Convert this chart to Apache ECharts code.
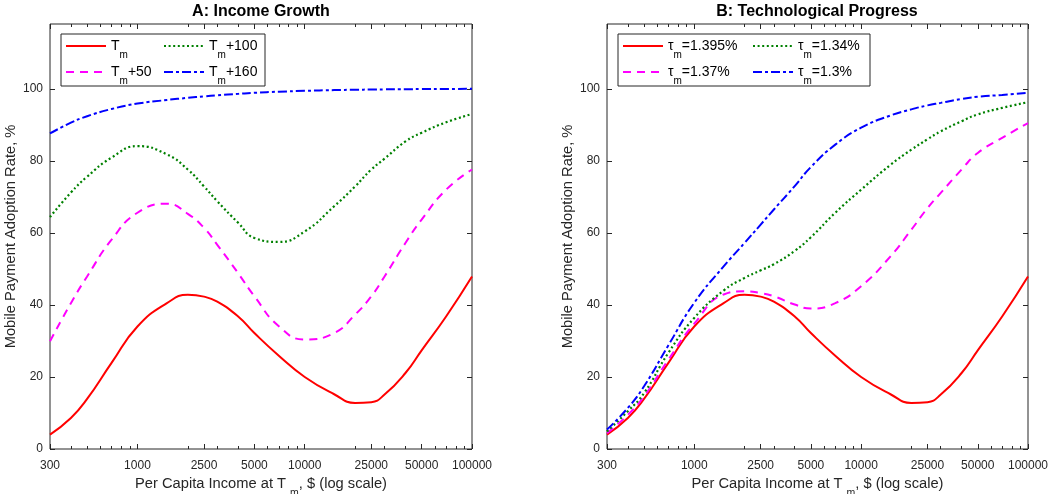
<!DOCTYPE html>
<html><head><meta charset="utf-8">
<script src="https://cdn.jsdelivr.net/npm/echarts@6/dist/echarts.min.js"></script>
<style>html,body{margin:0;padding:0;background:#fff}#c{width:1052px;height:494px}</style>
</head><body><div id="c"></div>
<script>
// ---------------- data ----------------
const incomes = [300,400,500,700,1000,1500,2000,2500,3000,4000,5000,7000,10000,15000,20000,25000,30000,40000,50000,70000,100000];
const xTickLabels = [300,1000,2500,5000,10000,25000,50000,100000];
const xMinorTicks = [400,500,600,700,800,900,2000,3000,4000,6000,7000,8000,9000,20000,30000,40000,60000,70000,80000,90000];
const yTicks = [0,20,40,60,80,100];

// Panel A: Income Growth
const namesA = ['T_m','T_m+50','T_m+100','T_m+160'];
const a_Tm    = [4.0,8.6,13.9,23.9,34.0,40.5,42.8,42.3,40.9,36.8,32.2,25.9,20.0,15.2,12.8,13.0,15.1,21.1,27.4,36.8,47.9];
const a_Tm50  = [29.9,40.5,47.9,58.1,65.6,68.1,65.3,61.4,56.7,48.8,42.4,34.1,30.4,32.2,37.3,42.4,47.9,57.2,63.7,72.0,77.6];
const a_Tm100 = [64.4,71.2,75.6,80.9,84.1,81.8,77.6,72.9,68.8,62.8,58.6,57.5,60.4,67.4,72.9,77.6,80.6,85.4,87.8,90.7,93.0];
const a_Tm160 = [87.6,90.6,92.4,94.4,95.9,96.9,97.5,97.9,98.2,98.6,98.9,99.2,99.45,99.65,99.75,99.8,99.85,99.9,99.93,99.97,100];

// Panel B: Technological Progress
const namesB = ['τ_m=1.395%','τ_m=1.37%','τ_m=1.34%','τ_m=1.3%'];
const b_1395 = [4.0,8.6,13.9,23.9,34.0,40.5,42.8,42.3,40.9,36.8,32.2,25.9,20.0,15.2,12.8,13.0,15.1,21.1,27.4,36.8,47.9];
const b_137  = [4.4,9.5,14.6,24.8,34.8,42.9,43.8,43.3,42.4,40.1,39.0,40.5,45.2,53.5,60.9,66.9,71.1,77.6,82.2,86.4,90.5];
const b_134  = [4.9,10.5,15.5,26.7,36.4,44.0,47.5,49.6,51.3,55.0,58.8,65.6,72.0,78.9,83.1,86.0,88.2,91.0,92.9,94.7,96.3];
const b_13   = [5.4,11.4,17.4,28.8,40.6,50.7,57.2,62.3,66.5,73.0,78.3,84.5,89.2,92.6,94.3,95.4,96.1,97.2,97.8,98.3,98.9];

// ---------------- styling ----------------
const FF = 'Liberation Sans, Arial, Helvetica, sans-serif';
const AX = '#262626';
const TXT = '#262626';
const colors = ['#ff0000','#ff00ff','#008000','#0000ff'];
const widths = [2,2,2.2,2];
const dashes = ['solid',[8,6],[2,2.6],[9,3,3,3]];
const XMIN = Math.log10(300), XMAX = 5;
const LEG_FS = 14, SUB_FS = 10;

const mctx = document.createElement('canvas').getContext('2d');
function tw(s, fs){ mctx.font = fs + 'px ' + FF; return mctx.measureText(s).width; }
function legendTextWidth(name){
  const p = name.split('_m');
  return tw(p[0],LEG_FS) + tw('m',SUB_FS) + tw(p[1]||'',LEG_FS);
}

function xAxisCfg(g, position, ticks, len, withLabels, name) {
  const cfg = {
    type:'value', gridIndex:g, position:position, min:XMIN, max:XMAX,
    axisLine:{show:false, onZero:false}, splitLine:{show:false},
    axisTick:{show:true, inside:true, length:len, customValues:ticks.map(Math.log10), lineStyle:{color:AX,width:1}},
    axisLabel:{show:false}
  };
  if (withLabels) {
    cfg.axisLabel = {show:true, customValues:xTickLabels.map(Math.log10),
      formatter:function(v){return String(Math.round(Math.pow(10,v)));},
      margin:11, fontSize:12, color:TXT, fontFamily:FF};
    cfg.name = name; cfg.nameLocation = 'middle'; cfg.nameGap = 19;
    cfg.nameTextStyle = {fontSize:14.7, color:TXT, fontFamily:FF,
      rich:{s:{fontSize:10.5, color:TXT, fontFamily:FF, padding:[18,0,0,0]}}};
  }
  return cfg;
}
function yAxisCfg(g, position, withLabels) {
  const cfg = {
    type:'value', gridIndex:g, position:position, min:0, max:118,
    axisLine:{show:false, onZero:false}, splitLine:{show:false},
    axisTick:{show:true, inside:true, length:5, customValues:yTicks, lineStyle:{color:AX,width:1}},
    axisLabel:{show:false}
  };
  if (withLabels) {
    cfg.axisLabel = {show:true, customValues:yTicks, margin:7, fontSize:12, color:TXT, fontFamily:FF};
    cfg.name = 'Mobile Payment Adoption Rate, %';
    cfg.nameLocation = 'middle'; cfg.nameGap = 32;
    cfg.nameTextStyle = {fontSize:14.7, color:TXT, fontFamily:FF};
  }
  return cfg;
}
const xName = 'Per Capita Income at T {s|m}, $ (log scale)';
const xAxes = [], yAxes = [];
[0,1].forEach(function(g){
  xAxes.push(xAxisCfg(g,'bottom',xTickLabels,5,true,xName));
  xAxes.push(xAxisCfg(g,'bottom',xMinorTicks,3,false));
  xAxes.push(xAxisCfg(g,'top',xTickLabels,5,false));
  xAxes.push(xAxisCfg(g,'top',xMinorTicks,3,false));
  yAxes.push(yAxisCfg(g,'left',true));
  yAxes.push(yAxisCfg(g,'right',false));
});

function mkSeries(name, vals, k, g) {
  return {
    type:'line', name:name, xAxisIndex:g*4, yAxisIndex:g*2,
    data: incomes.map(function(v,i){return [Math.log10(v), vals[i]];}),
    smooth:0.5, symbol:'none', showSymbol:false,
    lineStyle:{color:colors[k], width:widths[k], type:dashes[k]},
    itemStyle:{color:colors[k]}, z:2+k
  };
}
const series = [
  mkSeries(namesA[0], a_Tm, 0, 0), mkSeries(namesA[1], a_Tm50, 1, 0),
  mkSeries(namesA[2], a_Tm100, 2, 0), mkSeries(namesA[3], a_Tm160, 3, 0),
  mkSeries(namesB[0], b_1395, 0, 1), mkSeries(namesB[1], b_137, 1, 1),
  mkSeries(namesB[2], b_134, 2, 1), mkSeries(namesB[3], b_13, 3, 1)
];
function fmt(name){ return name.replace('_m','{s|m}'); }
function legendCfg(left, data, boxRight, z) {
  const cfg = {
    left:left, top:34, orient:'vertical', padding:[5,4,0,4],
    itemGap:5, itemWidth:40, itemHeight:14, z:z,
    itemStyle:{opacity:0, borderWidth:0},
    selectedMode:false, data:data, formatter:fmt,
    textStyle:{fontSize:LEG_FS, color:'#000', fontFamily:FF,
      rich:{s:{fontSize:SUB_FS, color:'#000', fontFamily:FF, padding:[18,0,0,0]}}}
  };
  if (boxRight != null) {
    const content = 45 + Math.max.apply(null, data.map(legendTextWidth));
    cfg.padding = [5, Math.max(4, boxRight - left - 4 - content), 0, 4];
    cfg.backgroundColor = '#fff'; cfg.borderColor = AX; cfg.borderWidth = 1;
  }
  return cfg;
}
const option = {
  animation:false,
  backgroundColor:'#fff',
  title:[
    {text:'A: Income Growth', left:261, top:4, textAlign:'center', padding:0,
     textStyle:{fontSize:16, fontWeight:'bold', color:'#000', fontFamily:FF}},
    {text:'B: Technological Progress', left:817, top:4, textAlign:'center', padding:0,
     textStyle:{fontSize:16, fontWeight:'bold', color:'#000', fontFamily:FF}}
  ],
  grid:[
    {left:50, top:24, width:422, height:425, show:true, borderColor:AX, borderWidth:1, backgroundColor:'#fff', containLabel:false, outerBoundsMode:'none'},
    {left:607, top:24, width:421, height:425, show:true, borderColor:AX, borderWidth:1, backgroundColor:'#fff', containLabel:false, outerBoundsMode:'none'}
  ],
  legend:[
    legendCfg(61, [namesA[0], namesA[1]], 264, 4),
    legendCfg(159, [namesA[2], namesA[3]], null, 5),
    legendCfg(618, [namesB[0], namesB[1]], 869, 4),
    legendCfg(748, [namesB[2], namesB[3]], null, 5)
  ],
  xAxis:xAxes, yAxis:yAxes, series:series
};
const chart = echarts.init(document.getElementById('c'), null, {renderer:'canvas'});
chart.setOption(option);
</script>
</body></html>
